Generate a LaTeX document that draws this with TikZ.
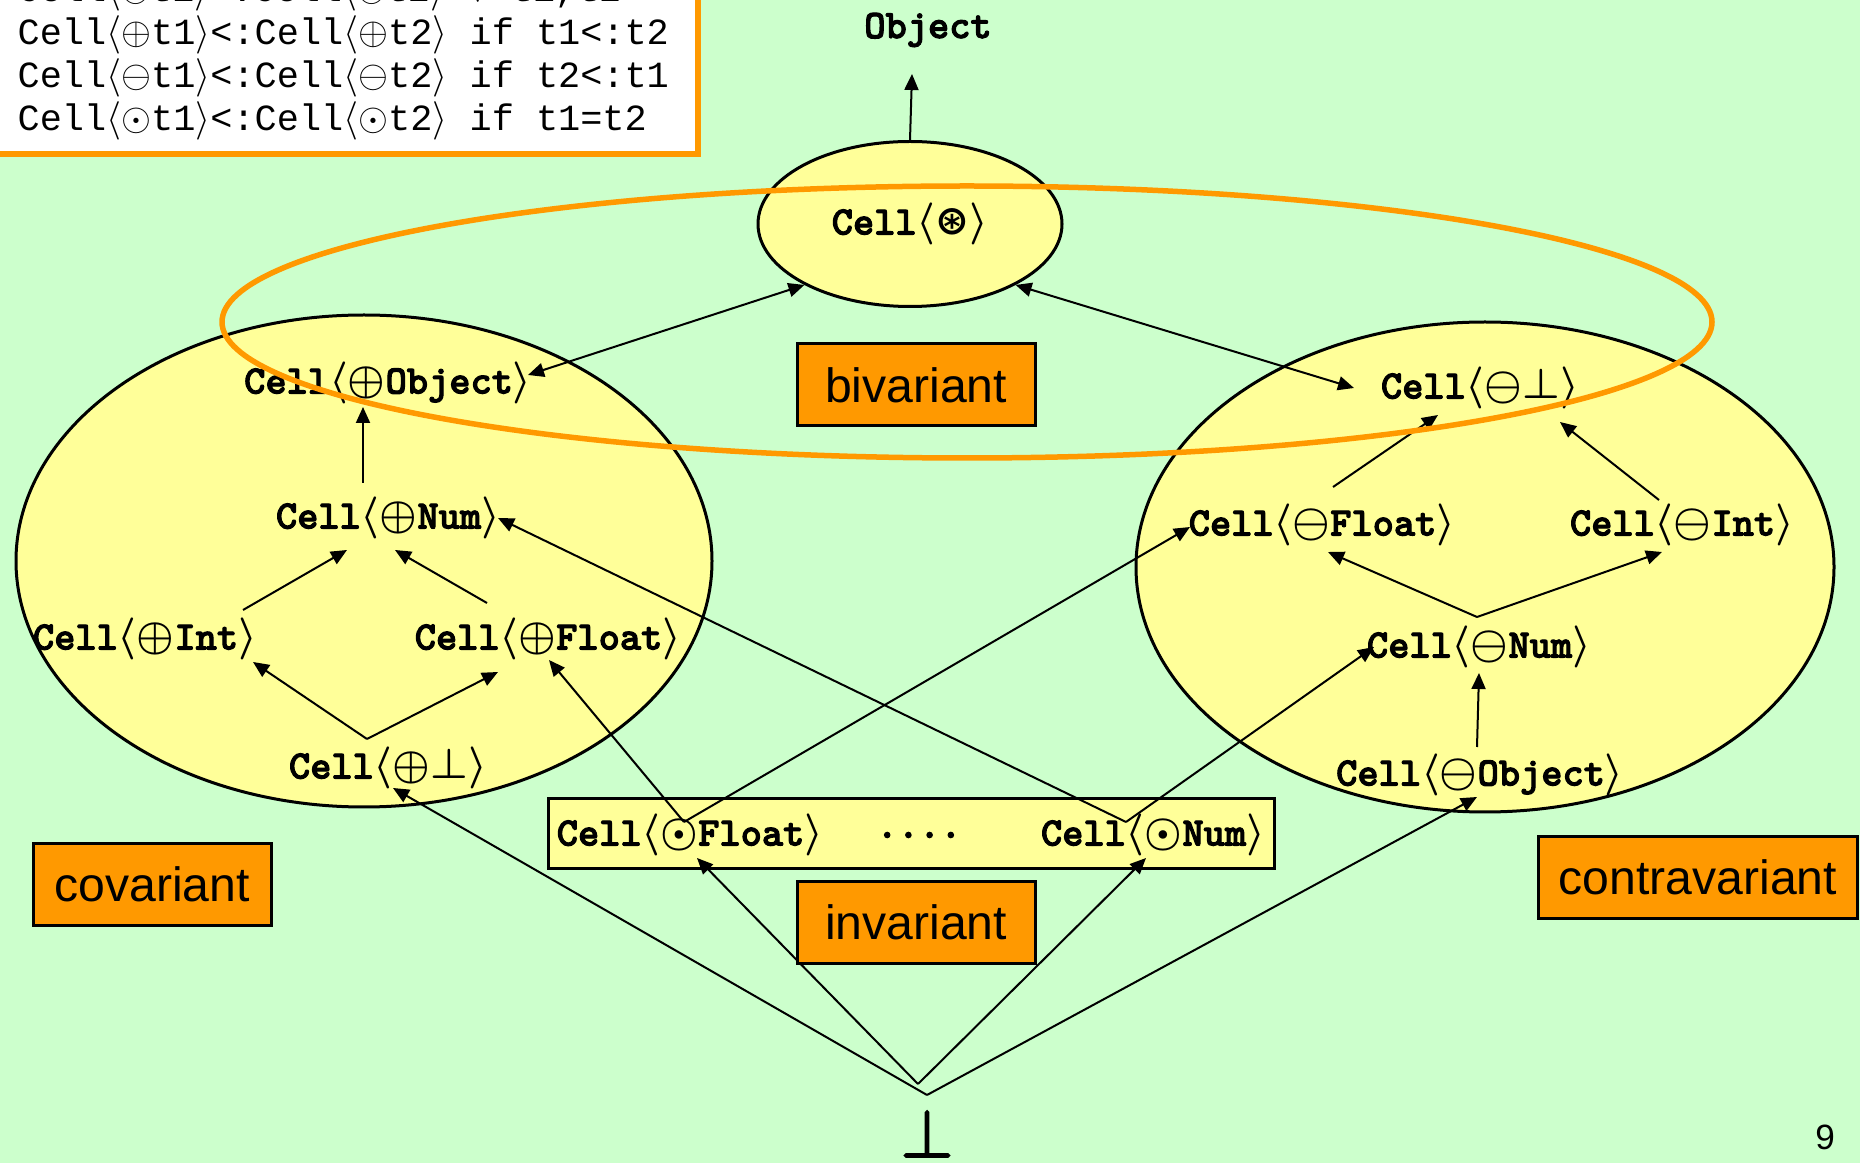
\documentclass[tikz,border=0pt]{standalone}
\usepackage{amssymb}
\usepackage{fontspec}
\newfontfamily\codefont{Liberation Mono}
\newfontfamily\tagfont{Liberation Sans}
\newfontfamily\cellfont{lmmonolt10-bold.otf}[FakeBold=2.5]
\newfontfamily\symbolfont{DejaVu Sans}
\newfontfamily\bottomfont{Latin Modern Math}[FakeBold=3]
\usetikzlibrary{calc}
\usetikzlibrary{shapes.geometric}
\usetikzlibrary{arrows.meta}
\definecolor{slide colour}{HTML}{CCFFCC}
\definecolor{cell colour}{HTML}{FFFF99}
\definecolor{tag colour}{HTML}{FF9900}
\newcommand{\anyvar}{\mbox{\symbolfont\bfseries\char"229B}}
\tikzset{
    % Filled triangles, as on the slide
    >={Triangle[length=1.6mm, width=1.4mm]},
%
    % Areas
    cluster/.style={draw, fill=cell colour, line width=0.3mm},
    ring/.style={draw=tag colour, line width=0.55mm},
    rules box/.style={draw=tag colour, fill=white, line width=0.65mm},
    % Lines
    link/.style={draw, line width=0.2mm, ->},
%
    % Texts
    cell/.style={
        font=\cellfont\fontsize{11.5}{13}\selectfont\boldmath,
        inner sep=1pt},
    code/.style={
        font=\codefont\fontsize{10.5}{12}\selectfont,
        inner sep=0pt, anchor=base west},
    tag/.style={
        draw, fill=tag colour, line width=0.3mm,
        font=\tagfont\fontsize{13.7}{15}\selectfont,
        minimum width=23.8mm, minimum height=8.2mm, inner sep=0pt},
}

\begin{document}
\begin{tikzpicture}[x=0.1mm, y=-0.1mm]

    \fill[slide colour] (0,0) rectangle (1860,1163);
    \useasboundingbox (0,0) rectangle (1860,1163);

    % Subtyping rules, cut off by the top of the slide
    \draw[rules box] (-20,-60) rectangle (698,154);
    \path[every node/.style={code}]
        (17,2) node (rule star)
            {Cell$\langle\circledast$t1$\rangle$<:Cell$\langle\circledast$t2$\rangle$ $\forall$ t1,t2}
        ++(0,43) node (rule plus)
            {Cell$\langle\oplus$t1$\rangle$<:Cell$\langle\oplus$t2$\rangle$ if t1<:t2}
        ++(0,43) node (rule minus)
            {Cell$\langle\ominus$t1$\rangle$<:Cell$\langle\ominus$t2$\rangle$ if t2<:t1}
        ++(0,43) node (rule dot)
            {Cell$\langle\odot$t1$\rangle$<:Cell$\langle\odot$t2$\rangle$ if t1=t2};

    % The groups of cells
    \draw[cluster] (364,561) ellipse [x radius=34.8mm, y radius=24.6mm];
    \draw[cluster] (1485,567) ellipse [x radius=34.9mm, y radius=24.5mm];
    \draw[cluster] (548,799) rectangle (1274,868);

    \node[cell] (Object) at (928,30) {Object};
    \node[cell, cluster, ellipse, minimum width=30.4mm, minimum height=16.5mm]
        (cell star) at (910,224) {Cell$\langle$\anyvar$\rangle$};

    \path[every node/.style={cell}]
        (388,383) node (plus Object) {Cell$\langle\oplus$Object$\rangle$}
        (388,518) node (plus Num) {Cell$\langle\oplus$Num$\rangle$}
        (145,639) node (plus Int) {Cell$\langle\oplus$Int$\rangle$}
        (548,639) node (plus Float) {Cell$\langle\oplus$Float$\rangle$}
        (388,768) node (plus bot) {Cell$\langle\oplus\bot\rangle$};

    \path[every node/.style={cell}]
        (1480,388) node (minus bot) {Cell$\langle\ominus\bot\rangle$}
        (1322,525) node (minus Float) {Cell$\langle\ominus$Float$\rangle$}
        (1682,525) node (minus Int) {Cell$\langle\ominus$Int$\rangle$}
        (1479,647) node (minus Num) {Cell$\langle\ominus$Num$\rangle$}
        (1480,775) node (minus Object) {Cell$\langle\ominus$Object$\rangle$};

    \path[every node/.style={cell}]
        (690,835) node (dot Float) {Cell$\langle\odot$Float$\rangle$}
        (919,835) node (dots) {....}
        (1153,835) node (dot Num) {Cell$\langle\odot$Num$\rangle$};

    \coordinate (apex) at (927,1095);
    \coordinate (inner apex) at (918,1084);
    \node[inner sep=0pt, font=\bottomfont\fontsize{19}{19}\selectfont] (bottom) at (927,1134) {\char"22A5};
    \node[inner sep=0pt, font=\tagfont\fontsize{10}{12}\selectfont] (page) at (1825,1137) {9};

    % Bivariant
    \draw[link] (cell star.north) -- ($(Object)+(-16,44)$);
    \draw[link, <->] ($(plus Object)+(140,-8)$) -- (cell star.210);
    \draw[link, <->] (cell star.330) -- ($(minus bot)+(-126,0)$);

    % Covariant
    \draw[link] ($(plus Num)+(-25,-35)$) -- ($(plus Object)+(-25,24)$);
    \draw[link] ($(plus Int)+(98,-29)$) -- ($(plus Num)+(-41,32)$);
    \draw[link] ($(plus Float)+(-61,-36)$) -- ($(plus Num)+(7,32)$);
    \draw[link] ($(plus bot)+(-21,-29)$) -- ($(plus Int)+(108,23)$);
    \draw[link] ($(plus bot)+(-21,-29)$) -- ($(plus Float)+(-50,33)$);

    % Contravariant
    \draw[link] ($(minus Float)+(11,-38)$) -- ($(minus bot)+(-42,27)$);
    \draw[link] ($(minus Int)+(-23,-25)$) -- ($(minus bot)+(80,34)$);
    \draw[link] ($(minus Num)+(-2,-30)$) -- ($(minus Float)+(6,27)$);
    \draw[link] ($(minus Num)+(-2,-30)$) -- ($(minus Int)+(-20,27)$);
    \draw[link] ($(minus Object)+(-3,-28)$) -- ($(minus Num)+(0,26)$);

    % Invariant into both sides
    \draw[link] ($(dot Float)+(-6,-13)$) -- ($(plus Float)+(1,21)$);
    \draw[link] ($(dot Float)+(-6,-13)$) -- ($(minus Float)+(-132,2)$);
    \draw[link] ($(dot Num)+(-27,-13)$) -- ($(plus Num)+(110,0)$);
    \draw[link] ($(dot Num)+(-27,-13)$) -- ($(minus Num)+(-105,0)$);

    % From the bottom type
    \draw[link] (apex) -- ($(plus bot)+(5,20)$);
    \draw[link] (apex) -- ($(minus Object)+(-3,22)$);
    \draw[link] (inner apex) -- ($(dot Float)+(7,23)$);
    \draw[link] (inner apex) -- ($(dot Num)+(-7,23)$);

    \draw[ring] (967,322) ellipse [x radius=74.5mm, y radius=13.6mm];

    \node[tag] (bivariant) at (916,385) {bivariant};
    \node[tag] (covariant) at (152,884) {covariant};
    \node[tag] (invariant) at (916,922) {invariant};
    \node[tag, minimum width=31.9mm] (contravariant) at (1698,877) {contravariant};
\end{tikzpicture}
\end{document}
